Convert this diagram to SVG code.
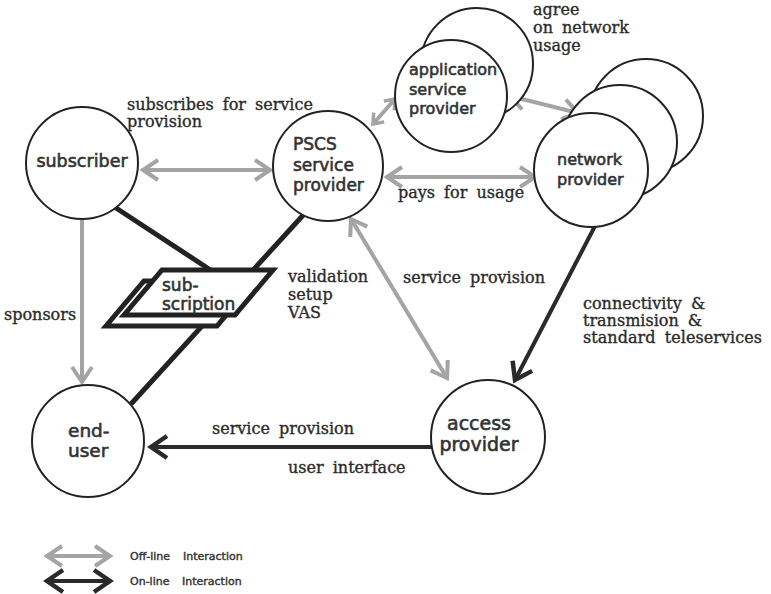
<svg xmlns="http://www.w3.org/2000/svg" width="771" height="594" viewBox="0 0 771 594">
<style>
.node{fill:#fff;stroke:#222;stroke-width:2}
.nl{font-family:"DejaVu Sans",sans-serif;fill:#333;stroke:#333;stroke-width:0.6}
.lab{font-family:"DejaVu Serif",serif;font-size:16px;fill:#2a2a2a;stroke:#2a2a2a;stroke-width:0.35;word-spacing:4px}
.off{stroke:#a4a4a4;stroke-width:4;fill:none}
.on{stroke:#2a2a2a;stroke-width:4;fill:none}
.thick{stroke:#222;stroke-width:5;fill:none}
.sub{fill:#fff;stroke:#222;stroke-width:5;stroke-linejoin:miter}
.leg{font-family:"DejaVu Sans",sans-serif;font-size:11px;fill:#333;stroke:#333;stroke-width:0.4}
</style>
<defs>
<marker id="hOff" viewBox="-20 -15 30 30" markerWidth="30" markerHeight="30" refX="0" refY="0" markerUnits="userSpaceOnUse" orient="auto-start-reverse" overflow="visible">
<path d="M-15 -10 L0 0 L-15 10" fill="none" stroke="#a4a4a4" stroke-width="4"/>
</marker>
<marker id="hOffS" viewBox="-20 -15 30 30" markerWidth="30" markerHeight="30" refX="0" refY="0" markerUnits="userSpaceOnUse" orient="auto-start-reverse" overflow="visible">
<path d="M-9 -7 L0 0 L-9 7" fill="none" stroke="#a4a4a4" stroke-width="3.5"/>
</marker>
<marker id="hOn" viewBox="-20 -15 30 30" markerWidth="30" markerHeight="30" refX="0" refY="0" markerUnits="userSpaceOnUse" orient="auto-start-reverse" overflow="visible">
<path d="M-16 -11 L0 0 L-16 11" fill="none" stroke="#2a2a2a" stroke-width="4.5"/>
</marker>
</defs>
<rect width="771" height="594" fill="#fff"/>

<g id="connectors">
<line class="off" x1="143" y1="170" x2="270" y2="170" marker-start="url(#hOff)" marker-end="url(#hOff)"/>
<line class="off" x1="387" y1="177" x2="535" y2="177" marker-start="url(#hOff)" marker-end="url(#hOff)"/>
<line class="off" x1="373" y1="124" x2="395" y2="99" marker-start="url(#hOffS)" marker-end="url(#hOffS)"/>
<line class="off" x1="510" y1="96" x2="578" y2="113" marker-start="url(#hOff)" marker-end="url(#hOff)"/>
<line class="off" x1="351" y1="219" x2="447" y2="378" marker-start="url(#hOff)" marker-end="url(#hOff)"/>
<line class="off" x1="82" y1="220" x2="82" y2="382" marker-end="url(#hOff)"/>
<line class="on" x1="595" y1="226" x2="515" y2="380" marker-end="url(#hOn)"/>
<line class="on" x1="431" y1="447" x2="151" y2="447" marker-end="url(#hOn)"/>
<line class="thick" x1="113" y1="206" x2="212" y2="271"/>
<line class="thick" x1="306" y1="212" x2="131" y2="404"/>
</g>

<g id="node-subscriber">
<circle class="node" cx="82" cy="163" r="56"/>
<text class="nl" x="82" y="167" font-size="17.5" text-anchor="middle">subscriber</text>
</g>
<g id="node-pscs">
<circle class="node" cx="328" cy="166" r="55"/>
<text class="nl" font-size="17"><tspan x="293" y="150">PSCS</tspan><tspan x="293" y="171">service</tspan><tspan x="293" y="191">provider</tspan></text>
</g>
<g id="node-asp">
<circle class="node" cx="477" cy="64" r="56"/>
<circle class="node" cx="451" cy="96" r="56"/>
<text class="nl" font-size="16"><tspan x="409" y="75">application</tspan><tspan x="409" y="95">service</tspan><tspan x="409" y="114">provider</tspan></text>
</g>
<g id="node-network">
<circle class="node" cx="646" cy="116" r="57"/>
<circle class="node" cx="620" cy="142" r="57"/>
<circle class="node" cx="591" cy="170" r="57"/>
<text class="nl" font-size="16"><tspan x="557" y="165">network</tspan><tspan x="557" y="185">provider</tspan></text>
</g>
<g id="node-access">
<circle class="node" cx="488" cy="437" r="57"/>
<text class="nl" font-size="19" text-anchor="middle"><tspan x="479" y="430">access</tspan><tspan x="479" y="451">provider</tspan></text>
</g>
<g id="node-enduser">
<circle class="node" cx="88" cy="441" r="56"/>
<text class="nl" font-size="18.5"><tspan x="68" y="437">end-</tspan><tspan x="68" y="457">user</tspan></text>
</g>
<g id="node-subscription">
<polygon class="sub" points="144,281 255,281 217,326 106,326"/>
<polygon class="sub" points="162,270 273,270 235,315 124,315" stroke-width="6"/>
<text class="nl" font-size="17"><tspan x="162" y="291">sub-</tspan><tspan x="162" y="310">scription</tspan></text>
</g>

<g id="labels">
<text class="lab"><tspan x="127" y="110">subscribes for service</tspan><tspan x="127" y="127">provision</tspan></text>
<text class="lab"><tspan x="533" y="15">agree</tspan><tspan x="533" y="33">on network</tspan><tspan x="533" y="51">usage</tspan></text>
<text class="lab" x="398" y="198">pays for usage</text>
<text class="lab" font-size="15.5"><tspan x="288" y="282">validation</tspan><tspan x="288" y="300">setup</tspan><tspan x="288" y="318">VAS</tspan></text>
<text class="lab" x="403" y="283">service provision</text>
<text class="lab" font-size="15"><tspan x="583" y="309">connectivity &amp;</tspan><tspan x="583" y="326">transmision &amp;</tspan><tspan x="583" y="343" textLength="179">standard teleservices</tspan></text>
<text class="lab" x="4" y="320">sponsors</text>
<text class="lab" x="212" y="434">service provision</text>
<text class="lab" x="288" y="473">user interface</text>
</g>

<g id="legend">
<line class="off" x1="47" y1="556" x2="110" y2="556" marker-start="url(#hOff)" marker-end="url(#hOff)"/>
<line class="on" x1="47" y1="581" x2="110" y2="581" marker-start="url(#hOn)" marker-end="url(#hOn)"/>
<text class="leg"><tspan x="130" y="560">Off-line</tspan><tspan x="183" y="560">Interaction</tspan></text>
<text class="leg"><tspan x="130" y="585">On-line</tspan><tspan x="182" y="585">Interaction</tspan></text>
</g>
</svg>
